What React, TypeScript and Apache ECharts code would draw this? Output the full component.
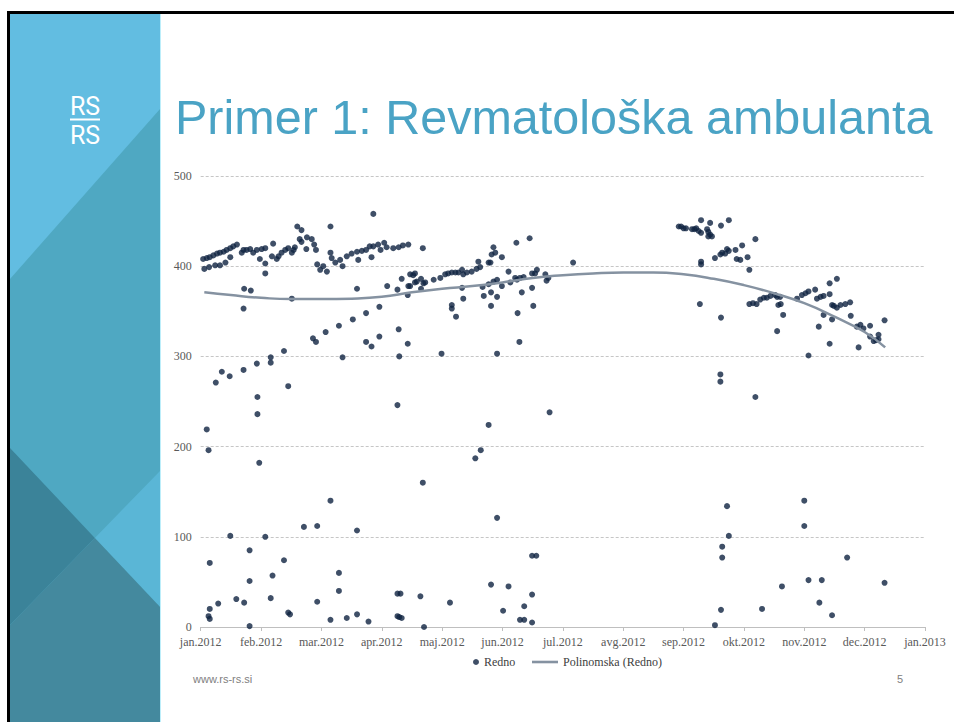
import React, { useEffect, useRef } from "react";
import * as echarts from "echarts";

// x = months since 1 Jan 2012 (axis ticks are month starts), y = value
const monthLabels = [
  "jan.2012", "feb.2012", "mar.2012", "apr.2012", "maj.2012", "jun.2012",
  "jul.2012", "avg.2012", "sep.2012", "okt.2012", "nov.2012", "dec.2012", "jan.2013",
];
const yTicks = [0, 100, 200, 300, 400, 500];

const janAprMain: [number, number][] = [
  [0.04, 408], [0.10, 409], [0.15, 410], [0.21, 412], [0.27, 414], [0.32, 415], [0.38, 416],
  [0.43, 418], [0.49, 420], [0.54, 422], [0.60, 424], [0.06, 397], [0.14, 399], [0.24, 401],
  [0.32, 401], [0.41, 404], [0.49, 410], [0.68, 415], [0.71, 418], [0.76, 418], [0.82, 419],
  [0.87, 415], [0.93, 418], [1.01, 419], [1.07, 420], [0.98, 408], [1.07, 403], [1.07, 392],
  [1.18, 411], [1.20, 425], [1.26, 408], [1.29, 411], [1.34, 415], [1.40, 418], [1.45, 420],
  [1.51, 415], [1.54, 418], [1.56, 421], [1.60, 444], [1.67, 440], [1.64, 430], [1.67, 427],
  [1.75, 419], [1.76, 432], [1.84, 430], [1.88, 424], [1.91, 418], [1.93, 402], [1.98, 396],
  [2.03, 400], [2.09, 394], [2.15, 444], [2.15, 415], [2.17, 409], [2.23, 404], [2.31, 407],
  [2.35, 400], [2.42, 411], [2.50, 414], [2.59, 416], [2.61, 407], [2.67, 417], [2.74, 418],
  [2.80, 422], [2.83, 410], [2.86, 422], [2.86, 458], [2.94, 424], [2.98, 418], [3.04, 426],
  [3.08, 421], [3.19, 420], [3.28, 421], [3.35, 423], [3.44, 424], [3.68, 420],
];

const janAprMid: [number, number][] = [
  [1.51, 364], [1.86, 320], [1.91, 316], [2.07, 327], [2.29, 334], [2.35, 299], [2.52, 341],
  [2.59, 375], [2.74, 348], [2.74, 316], [2.83, 311], [2.96, 355], [2.96, 322], [3.09, 378],
  [3.26, 374], [3.28, 330], [3.29, 300], [3.43, 314], [3.43, 368], [3.44, 378], [3.33, 386],
  [3.47, 391], [3.55, 392], [3.58, 383], [0.72, 375], [0.83, 373], [0.71, 353], [0.25, 271],
  [0.35, 283], [0.48, 278], [0.71, 285], [0.93, 292], [1.16, 299], [1.16, 293], [1.38, 306],
  [1.45, 267], [0.94, 255],
];

const majJun: [number, number][] = [
  [3.47, 378], [3.52, 390], [3.55, 382], [3.65, 386], [3.65, 375], [3.69, 381], [3.72, 382],
  [3.86, 385], [3.97, 387], [4.05, 391], [4.10, 392], [4.16, 393], [4.22, 393], [4.27, 393],
  [4.33, 396], [4.35, 391], [4.41, 393], [4.49, 394], [4.57, 397], [4.60, 405], [4.63, 399],
  [4.67, 377], [4.69, 367], [4.77, 380], [4.77, 404], [4.80, 404], [4.82, 413], [4.85, 421],
  [4.88, 415], [4.81, 371], [4.81, 356], [4.91, 366], [4.85, 383], [4.91, 385], [4.99, 378],
  [4.99, 410], [5.10, 394], [5.13, 382], [5.21, 387], [5.23, 426], [5.24, 385], [5.29, 387],
  [5.35, 388], [5.45, 431], [5.49, 376], [5.49, 392], [5.51, 356], [5.54, 392], [5.57, 396],
  [5.71, 391], [5.73, 384], [5.76, 387], [6.17, 404], [5.32, 371], [5.25, 348], [5.28, 316],
  [4.16, 357], [4.16, 353], [4.23, 344], [4.33, 376], [4.35, 364], [3.99, 303], [4.91, 303],
];

const sepDec: [number, number][] = [
  [7.92, 444], [7.96, 444], [8.00, 442], [8.04, 442], [8.14, 441], [8.18, 441], [8.21, 442],
  [8.25, 439], [8.29, 451], [8.29, 437], [8.39, 441], [8.41, 438], [8.44, 435], [8.47, 433],
  [8.41, 433], [8.44, 448], [8.62, 445], [8.75, 451], [8.29, 405], [8.29, 402], [8.52, 409],
  [8.61, 413], [8.64, 415], [8.69, 414], [8.72, 419], [8.75, 417], [8.86, 418], [8.88, 408],
  [8.94, 407], [8.97, 423], [9.06, 410], [9.09, 396], [9.19, 430], [8.27, 358], [8.62, 343],
  [8.61, 280], [8.61, 272], [9.19, 255], [9.09, 358], [9.15, 359], [9.21, 358], [9.27, 363],
  [9.33, 365], [9.38, 365], [9.44, 367], [9.52, 368], [9.55, 366], [9.57, 357], [9.61, 358],
  [9.60, 366], [9.65, 346], [9.55, 328], [9.88, 364], [9.96, 368], [10.02, 370], [10.07, 372],
  [10.18, 374], [10.21, 364], [10.27, 366], [10.32, 367], [10.42, 369], [10.42, 381],
  [10.54, 386], [10.46, 357], [10.49, 356], [10.54, 354], [10.60, 357], [10.68, 358],
  [10.76, 360], [10.32, 346], [10.46, 341], [10.24, 333], [10.77, 345], [10.42, 314],
  [10.07, 301], [10.87, 333], [10.93, 335], [10.98, 331], [11.09, 334], [11.09, 322],
  [11.23, 324], [11.15, 317], [11.19, 318], [11.23, 319], [10.90, 310], [11.33, 340],
];

const lowValues: [number, number][] = [
  [0.10, 219], [0.13, 196], [0.15, 71], [0.13, 12], [0.15, 20], [0.15, 9], [0.29, 26],
  [0.49, 101], [0.59, 31], [0.72, 27], [0.81, 85], [0.81, 51], [0.81, 1], [0.94, 236],
  [0.97, 182], [1.07, 100], [1.16, 32], [1.19, 57], [1.38, 74], [1.45, 16], [1.48, 14],
  [1.71, 111], [1.93, 112], [1.93, 28], [2.15, 140], [2.15, 8], [2.29, 60], [2.29, 40],
  [2.42, 10], [2.59, 107], [2.59, 14], [2.78, 6], [3.26, 246], [3.26, 37], [3.31, 37],
  [3.26, 12], [3.29, 11], [3.33, 10], [3.64, 34], [3.70, 0], [3.68, 160], [4.13, 27],
  [4.55, 187], [4.64, 196], [4.77, 224], [4.91, 121], [4.81, 47], [5.01, 18], [5.10, 45],
  [5.29, 8], [5.36, 8], [5.36, 23], [5.49, 79], [5.56, 79], [5.49, 36], [5.49, 5], [5.78, 238],
  [8.52, 2], [8.62, 19], [8.64, 89], [8.64, 77], [8.72, 134], [8.75, 101], [9.30, 20],
  [9.63, 45], [10.0, 140], [10.0, 112], [10.07, 52], [10.29, 52], [10.25, 27], [10.46, 13],
  [10.71, 77], [11.33, 49],
];

// polynomial trend line
const trendX = [0.06, 0.5, 1, 1.5, 2, 2.5, 3, 3.5, 4, 4.5, 5, 5.5, 6, 6.5, 7, 7.5, 8, 8.5, 9, 9.5, 10, 10.5, 11, 11.34];
const trendY = [371, 368, 365, 363.5, 363.5, 364, 366, 371, 375, 378, 382, 387, 390, 392, 393, 393, 391, 386, 379, 370, 359, 344, 327, 310];

export default function App() {
  const ref = useRef<HTMLDivElement>(null);

  useEffect(() => {
    if (!ref.current) return;
    const chart = echarts.init(ref.current, undefined, { renderer: "svg" });
    const points = [...janAprMain, ...janAprMid, ...majJun, ...sepDec, ...lowValues];
    const trend = trendX.map((x, i) => [x, trendY[i]]);
    const serif = "'Liberation Serif', 'DejaVu Serif', serif";
    const logoFont = "25px Roboto, 'Liberation Sans', sans-serif";

    // crossing of the two diagonal bands in the side panel
    const ax0 = 10, ay0 = 448, ax1 = 160, ay1 = 607;
    const by0 = 625, by1 = 471;
    const sa = (ay1 - ay0) / (ax1 - ax0);
    const sb = (by1 - by0) / (ax1 - ax0);
    const d = (by0 - ay0) / (sa - sb);
    const cx = ax0 + d, cy = ay0 + sa * d;

    chart.setOption({
      animation: false,
      backgroundColor: "#ffffff",
      grid: { left: 200.7, right: 29, top: 176, bottom: 95, containLabel: false },
      xAxis: {
        type: "value",
        min: 0,
        max: 12,
        interval: 1,
        axisLine: { show: true, lineStyle: { color: "#bfbfbf", width: 1 } },
        axisTick: { show: true, length: 4, lineStyle: { color: "#bfbfbf" } },
        splitLine: { show: false },
        axisLabel: {
          formatter: (v: number) => monthLabels[Math.round(v)] ?? "",
          color: "#595959",
          fontFamily: serif,
          fontSize: 12,
          margin: 9,
        },
      },
      yAxis: {
        type: "value",
        min: yTicks[0],
        max: yTicks[yTicks.length - 1],
        interval: 100,
        axisLine: { show: false },
        axisTick: { show: false },
        splitLine: { show: true, lineStyle: { color: "#c6c6c6", type: [3, 2], width: 1 } },
        axisLabel: { color: "#595959", fontFamily: serif, fontSize: 12, margin: 9 },
      },
      legend: [
        {
          left: 473,
          top: 656,
          padding: 0,
          itemWidth: 6,
          itemHeight: 6,
          textStyle: { color: "#404040", fontFamily: serif, fontSize: 12 },
          data: [{ name: "Redno", icon: "circle" }],
        },
        {
          left: 532,
          top: 656,
          padding: 0,
          itemWidth: 26,
          itemHeight: 6,
          textStyle: { color: "#404040", fontFamily: serif, fontSize: 12 },
          data: [{ name: "Polinomska (Redno)", icon: "path://M0,0H40V4H0Z" }],
        },
      ],
      series: [
        {
          name: "Redno",
          type: "scatter",
          data: points,
          symbol: "circle",
          symbolSize: 6,
          itemStyle: { color: "#0f2341" },
          z: 2,
        },
        {
          name: "Polinomska (Redno)",
          type: "line",
          data: trend,
          smooth: true,
          symbol: "none",
          lineStyle: { color: "#8592a1", width: 2.5 },
          itemStyle: { color: "#8592a1" },
          z: 3,
        },
      ],
      graphic: [
        { type: "rect", shape: { x: 10, y: 14, width: 150, height: 708 }, style: { fill: "#62bde1" }, z: -10 },
        { type: "polygon", shape: { points: [[10, 279], [160, 109], [160, 722], [10, 722]] }, style: { fill: "#4fa8c2" }, z: -9 },
        { type: "polygon", shape: { points: [[ax0, ay0], [cx, cy], [ax0, by0]] }, style: { fill: "#3b8399" }, z: -8 },
        { type: "polygon", shape: { points: [[ax1, by1], [cx, cy], [ax1, ay1]] }, style: { fill: "#5ab6d6" }, z: -8 },
        { type: "polygon", shape: { points: [[ax0, by0], [cx, cy], [ax1, ay1], [160, 722], [10, 722]] }, style: { fill: "#44899e" }, z: -8 },
        { type: "line", shape: { x1: 160.5, y1: 14, x2: 160.5, y2: 722 }, style: { stroke: "#bdeefa", lineWidth: 1 }, z: -7 },
        { type: "line", shape: { x1: 7, y1: 12.5, x2: 954, y2: 12.5 }, style: { stroke: "#000000", lineWidth: 3 }, z: 5 },
        { type: "line", shape: { x1: 8.5, y1: 11, x2: 8.5, y2: 722 }, style: { stroke: "#000000", lineWidth: 3 }, z: 5 },
        {
          type: "text", x: 85, y: 119,
          style: { text: "RS", fill: "#ffffff", font: logoFont, textAlign: "center", align: "center", textVerticalAlign: "bottom", verticalAlign: "bottom" },
          z: 5,
        },
        { type: "line", shape: { x1: 70, y1: 119.5, x2: 100, y2: 119.5 }, style: { stroke: "#ffffff", lineWidth: 2 }, z: 6 },
        {
          type: "text", x: 85, y: 123,
          style: { text: "RS", fill: "#ffffff", font: logoFont, textAlign: "center", align: "center", textVerticalAlign: "top", verticalAlign: "top" },
          z: 5,
        },
        {
          type: "text", x: 175, y: 117,
          style: { text: "Primer 1: Revmatološka ambulanta", fill: "#4aa3c5", font: "48.5px 'Liberation Sans', Arial, sans-serif", textAlign: "left", align: "left", textVerticalAlign: "middle", verticalAlign: "middle" },
          z: 5,
        },
        {
          type: "text", x: 193, y: 679,
          style: { text: "www.rs-rs.si", fill: "#808080", font: "11px 'Liberation Sans', Arial, sans-serif", textAlign: "left", align: "left", textVerticalAlign: "middle", verticalAlign: "middle" },
          z: 5,
        },
        {
          type: "text", x: 900, y: 679,
          style: { text: "5", fill: "#808080", font: "11px 'Liberation Sans', Arial, sans-serif", textAlign: "center", align: "center", textVerticalAlign: "middle", verticalAlign: "middle" },
          z: 5,
        },
      ],
    });
    return () => chart.dispose();
  }, []);

  return (
    <div
      ref={ref}
      style={{ position: "fixed", left: 0, top: 0, width: 954, height: 722, background: "#ffffff" }}
    />
  );
}
